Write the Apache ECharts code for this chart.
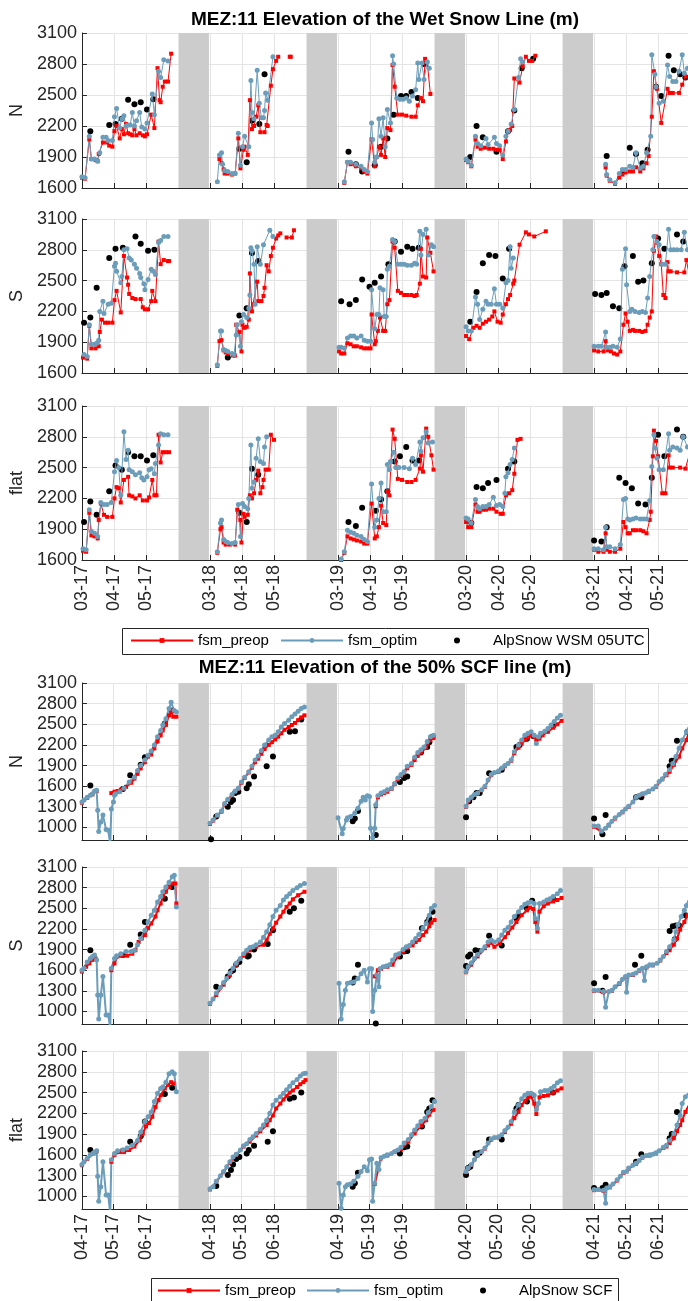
<!DOCTYPE html>
<html>
<head>
<meta charset="utf-8">
<script src="https://cdn.jsdelivr.net/npm/echarts/dist/echarts.min.js"></script>
<style>
html,body{margin:0;padding:0;background:#fff}
#main{width:688px;height:1301px}
</style>
</head>
<body>
<div id="main"></div>
<script>
// x = season index * SPAN + day within season (season = 3 plotted months + 1 month gap)
const SPAN = 122
const years = ['17', '18', '19', '20', '21']
const wetMonthDays = [0, 31, 61]
const wetMonths = ['03', '04', '05']
const scfMonthDays = [0, 30, 61]
const scfMonths = ['04', '05', '06']
const wetYTicks = [1600, 1900, 2200, 2500, 2800, 3100]
const scfYTicks = [1000, 1300, 1600, 1900, 2200, 2500, 2800, 3100]

// ---- Wet snow line, N ----
const wetN_preop = [
  [[0,1700],[3,1690],[7,2070],[9,1880],[13,1870],[15,1860],[16,1930],[20,2040],[24,2040],[26,2010],[29,2000],[31,2150],[33,2200],[36,2080],[38,2170],[40,2120],[42,2220],[44,2130],[46,2120],[48,2110],[50,2170],[52,2110],[55,2130],[58,2110],[60,2100],[62,2120],[66,2310],[69,2180],[72,2760],[74,2450],[75,2430],[77,2580],[79,2630],[82,2630],[85,2900]],
  [[9,1880],[11,1840],[13,1780],[14,1740],[17,1740],[21,1730],[24,1740],[27,2080],[29,1790],[32,1970],[33,2000],[36,1920],[38,2450],[40,2170],[42,2200],[44,2290],[46,2400],[48,2140],[52,2140],[54,2210],[55,2200],[58,2590],[60,2750],[63,2830],[65,2870],[70,'-'],[76,2870],[77,2870]],
  [[6,1650],[9,1850],[12,1830],[17,1810],[22,1790],[25,1760],[28,1740],[32,2070],[35,1810],[37,1900],[39,2000],[41,1920],[43,2080],[45,1900],[47,2180],[50,2160],[52,2790],[54,2580],[57,2310],[61,2310],[65,2300],[70,2290],[74,2290],[76,2400],[79,2470],[81,2440],[83,2850],[85,2820],[88,2510]],
  [[0,1870],[2,1850],[5,1810],[9,2070],[11,2000],[14,1980],[18,1990],[22,1980],[26,1980],[29,1970],[32,1970],[35,1880],[38,2050],[40,2140],[42,2160],[44,2200],[46,2660],[51,2620],[54,2780],[57,2870],[60,2830],[63,2830],[66,2880]],
  [[11,1800],[12,1720],[15,1670],[20,1640],[24,1700],[27,1730],[30,1750],[34,1760],[37,1760],[40,1800],[44,1760],[47,1790],[50,1840],[52,1910],[55,2290],[57,2730],[60,2560],[64,2230],[70,2560],[72,2520],[75,2520],[81,2520],[84,2600],[87,2680]]
]
const wetN_optim = [
  [[0,1710],[3,1700],[7,2100],[9,1880],[12,1880],[15,1860],[17,1940],[20,2090],[23,2090],[25,2060],[29,2060],[31,2290],[33,2370],[36,2180],[38,2270],[40,2300],[42,2200],[44,2210],[46,2210],[48,2330],[50,2200],[52,2250],[55,2330],[57,2190],[60,2170],[62,2230],[67,2510],[69,2310],[73,2730],[75,2670],[78,2840],[82,2830]],
  [[7,1660],[9,1920],[11,1940],[12,1830],[14,1770],[17,1760],[21,1740],[24,1740],[27,2130],[29,1820],[31,2000],[33,2100],[37,2000],[39,2640],[40,2330],[42,2270],[45,2740],[47,2420],[49,2280],[51,2280],[52,2350],[53,2520],[55,2450],[60,2870]],
  [[6,1660],[9,1850],[12,1850],[17,1830],[22,1810],[25,1780],[28,1760],[32,2230],[33,2070],[35,1850],[37,1900],[39,2270],[41,2100],[43,2280],[45,2000],[47,2360],[50,2230],[52,2880],[53,2800],[56,2470],[59,2460],[62,2460],[65,2470],[68,2440],[71,2490],[74,2550],[76,2810],[77,2650],[80,2810],[82,2650],[85,2820],[87,2760]],
  [[0,1880],[2,1860],[5,1820],[9,2100],[11,2030],[14,2010],[19,2080],[21,2020],[27,2090],[29,2030],[32,2010],[35,1920],[38,2100],[40,2150],[43,2220],[46,2360],[50,2670],[52,2850],[54,2820]],
  [[11,1830],[12,1730],[15,1680],[20,1650],[24,1740],[27,1780],[30,1780],[34,1810],[37,1800],[40,1940],[44,1790],[47,1810],[50,1940],[54,2100],[55,2890],[58,2700],[59,2580],[62,2420],[66,2440],[70,2790],[72,2680],[75,2630],[78,2630],[81,2730],[84,2890],[86,2710],[89,2760]]
]
const wetN_obs = [
  [[8,2150],[26,2210],[32,2220],[38,2270],[44,2455],[50,2410],[56,2430],[62,2360],[68,2460]],
  [[28,1980],[35,1850],[40,2250],[47,2220],[52,2700]],
  [[10,1950],[17,1830],[23,1760],[35,1820],[41,2000],[47,2080],[53,2310],[60,2490],[65,2490],[70,2530],[76,2470],[82,2800]],
  [[4,1900],[10,2200],[16,2090],[29,1950],[40,2150],[46,2350],[53,2760],[64,2850]],
  [[12,1910],[28,1760],[34,1990],[40,1930],[46,1840],[51,1970],[59,2580],[64,2490],[71,2880],[76,2740],[82,2700],[87,2670]]
]

// ---- Wet snow line, S ----
const wetS_preop = [
  [[1,1750],[5,1740],[7,2060],[9,1840],[13,1840],[16,1860],[17,2000],[19,2120],[22,2090],[25,2090],[29,2090],[31,2310],[33,2400],[37,2190],[40,2740],[43,2530],[44,2460],[45,2370],[48,2330],[51,2320],[56,2320],[58,2240],[60,2220],[63,2220],[66,2300],[67,2400],[70,2300],[73,2880],[75,2660],[78,2700],[82,2690],[83,2690]],
  [[7,1670],[9,1910],[11,1920],[13,1820],[15,1800],[17,1790],[22,1770],[24,1770],[25,2070],[28,2000],[30,1810],[31,2070],[33,2040],[35,2050],[37,2120],[38,2570],[40,2200],[41,2270],[45,2490],[46,2300],[49,2300],[51,2350],[52,2430],[54,2650],[56,2590],[58,2740],[60,2820],[63,2910],[65,2940],[67,2960],[70,'-'],[73,2920],[78,2920],[80,2990]],
  [[1,1810],[3,1790],[6,1790],[9,1890],[12,1880],[15,1860],[18,1860],[22,1850],[25,1840],[28,1840],[31,1840],[32,2170],[35,1880],[36,1910],[38,2010],[40,2140],[43,2010],[45,2010],[47,2270],[49,2310],[52,2880],[54,2820],[57,2400],[60,2380],[63,2360],[66,2360],[70,2360],[73,2350],[75,2360],[78,2470],[79,2810],[81,2540],[84,2530],[85,2920],[88,2770],[91,2590]],
  [[0,1960],[3,1930],[7,2040],[10,2060],[13,2040],[16,2080],[19,2100],[22,2120],[25,2150],[27,2200],[30,2100],[33,2090],[35,2170],[38,2270],[40,2320],[42,2360],[45,2470],[46,2500],[51,2850],[57,2970],[60,2950],[65,2930],[76,2980]],
  [[0,1820],[4,1810],[9,1810],[11,1910],[13,1820],[16,1810],[19,1790],[22,1780],[25,1810],[28,2070],[30,2180],[32,2100],[34,2010],[37,2020],[39,2010],[43,2010],[46,2000],[49,2010],[51,2070],[53,2140],[55,2200],[57,2790],[59,2930],[60,2870],[62,2740],[64,2660],[66,2360],[68,2330],[70,2680],[71,2590],[73,2590],[79,2580],[86,2580],[88,2700],[90,2590]]
]
const wetS_optim = [
  [[2,1780],[5,1760],[7,2070],[9,1880],[12,1880],[14,1890],[16,1920],[17,2200],[20,2300],[21,2180],[25,2270],[28,2280],[31,2640],[32,2670],[33,2590],[37,2480],[38,2540],[40,2800],[43,2810],[45,2720],[47,2700],[50,2660],[52,2620],[55,2570],[56,2530],[59,2470],[60,2410],[63,2510],[66,2610],[68,2590],[70,2560],[73,2870],[75,2890],[78,2930],[82,2930]],
  [[7,1680],[10,2010],[11,2010],[13,1830],[15,1820],[17,1810],[21,1790],[23,1780],[25,1970],[26,2070],[29,1860],[30,2100],[32,2170],[35,2140],[37,2230],[38,2360],[39,2820],[40,2790],[42,2660],[43,2270],[45,2830],[48,2660],[51,2850],[57,2990],[60,2930]],
  [[1,1850],[3,1850],[6,1840],[9,1940],[12,1960],[15,1960],[18,1940],[22,1960],[25,1920],[28,1910],[31,1910],[32,2410],[35,2030],[37,2170],[39,2170],[40,2430],[43,2410],[44,2150],[46,2150],[47,2610],[49,2640],[52,2900],[54,2880],[57,2660],[60,2660],[63,2660],[66,2650],[70,2650],[73,2670],[75,2660],[78,2980],[79,2750],[81,2950],[84,3000],[86,2750],[89,2850],[91,2830]],
  [[0,2050],[2,2010],[5,2010],[9,2340],[11,2270],[13,2120],[16,2220],[19,2300],[21,2270],[24,2270],[27,2420],[29,2270],[32,2270],[35,2230],[38,2480],[40,2500],[42,2830],[43,2620],[45,2720]],
  [[0,1860],[4,1860],[7,1860],[11,2000],[12,1850],[15,1850],[18,1860],[22,1850],[25,1930],[27,2610],[30,2810],[31,2460],[34,2200],[36,2220],[39,2200],[43,2190],[46,2200],[49,2190],[51,2330],[53,2540],[56,2800],[57,2930],[60,2880],[62,2850],[65,2660],[68,2660],[71,3000],[73,2800],[76,2800],[79,2800],[83,2800],[86,2970],[89,2800]]
]
const wetS_obs = [
  [[2,2090],[8,2140],[14,2430],[26,2720],[32,2810],[39,2820],[51,2930],[56,2860],[63,2790],[69,2800]],
  [[17,1750],[28,2160],[35,2230],[40,2770],[46,2690]],
  [[3,2300],[11,2270],[17,2310],[23,2510],[30,2440],[35,2480],[41,2540],[48,2660],[54,2880],[60,2780],[66,2830],[71,2810],[77,2820]],
  [[4,2100],[10,2390],[16,2670],[22,2750],[28,2740],[35,2520],[41,2810]],
  [[1,2370],[7,2360],[12,2380],[18,2250],[24,2230],[29,2640],[37,2740],[42,2490],[47,2500],[55,2670],[61,2910],[67,2810],[79,2950],[85,2880]]
]

// ---- Wet snow line, flat ----
const wetF_preop = [
  [[1,1690],[4,1680],[7,2060],[9,1840],[12,1830],[15,1810],[16,1990],[18,2150],[21,2040],[24,2020],[29,2020],[31,2200],[33,2310],[35,2300],[37,2160],[40,2380],[44,2410],[45,2230],[48,2220],[51,2200],[55,2230],[58,2180],[62,2180],[64,2210],[67,2380],[69,2230],[71,2230],[73,2820],[75,2550],[77,2650],[80,2650],[83,2650]],
  [[7,1670],[10,1900],[11,1920],[13,1770],[15,1750],[19,1750],[24,1750],[26,2090],[29,1990],[30,1770],[32,2050],[33,2020],[36,2040],[38,2230],[40,2200],[42,2250],[44,2380],[46,2470],[48,2250],[50,2310],[51,2380],[53,2480],[56,2480],[58,2820],[61,2770]],
  [[3,1600],[6,1670],[9,1830],[12,1810],[15,1800],[18,1790],[22,1780],[25,1760],[28,1760],[32,2150],[35,1810],[37,1830],[39,1920],[41,2130],[43,1960],[46,1940],[47,2270],[49,2230],[52,2870],[54,2780],[57,2390],[61,2380],[66,2360],[70,2360],[74,2380],[78,2490],[79,2620],[81,2460],[84,2880],[86,2800],[89,2620],[91,2480]],
  [[0,1970],[2,1920],[5,1920],[9,2140],[11,2070],[13,2070],[16,2090],[19,2090],[22,2100],[26,2100],[29,2070],[33,2050],[35,2050],[38,2230],[41,2250],[44,2280],[46,2440],[49,2770],[52,2780]],
  [[0,1700],[4,1680],[9,1680],[11,1860],[12,1700],[15,1680],[20,1680],[25,1710],[28,1970],[30,1920],[32,1860],[34,1860],[37,1890],[40,1890],[44,1890],[47,1880],[50,1860],[53,1990],[54,2070],[56,2610],[57,2860],[59,2760],[61,2610],[65,2250],[68,2250],[71,2620],[72,2500],[75,2500],[82,2500],[87,2490],[90,2600]]
]
const wetF_optim = [
  [[1,1710],[4,1700],[7,2090],[9,1880],[12,1860],[15,1830],[18,2160],[21,2140],[24,2140],[28,2160],[31,2460],[33,2570],[35,2500],[37,2230],[40,2850],[42,2580],[44,2670],[45,2480],[48,2460],[51,2430],[55,2450],[57,2400],[59,2380],[62,2410],[64,2480],[66,2490],[69,2440],[70,2540],[73,2720],[75,2830],[78,2820],[82,2820]],
  [[7,1680],[10,1960],[11,1990],[13,1800],[15,1780],[17,1770],[21,1760],[24,1770],[27,2140],[29,1830],[31,2150],[33,2120],[36,2100],[37,2200],[39,2720],[40,2300],[42,2360],[44,2590],[46,2780],[48,2560],[51,2540],[52,2700],[54,2800]],
  [[3,1610],[6,1680],[9,1890],[12,1870],[15,1860],[18,1840],[22,1830],[25,1800],[28,1780],[32,2340],[35,1920],[37,1990],[39,2200],[41,2350],[43,2070],[46,2070],[47,2530],[49,2480],[50,2560],[53,2650],[55,2500],[58,2500],[63,2500],[68,2490],[71,2590],[74,2530],[78,2750],[79,2660],[81,2790],[84,2850],[86,2740],[90,2750]],
  [[0,2010],[2,2000],[5,1960],[9,2190],[11,2120],[13,2100],[16,2120],[19,2120],[22,2140],[26,2210],[29,2130],[32,2140],[35,2120],[37,2250],[38,2410],[40,2450],[42,2530],[44,2580],[46,2690]],
  [[0,1710],[4,1710],[9,1700],[11,1920],[12,1730],[15,1730],[20,1710],[25,1750],[28,2190],[30,2200],[32,2000],[34,1990],[37,2000],[40,2010],[44,2000],[47,2000],[50,2000],[53,2180],[55,2510],[57,2820],[58,2690],[60,2590],[62,2480],[66,2480],[71,2830],[72,2670],[75,2700],[79,2690],[82,2670],[85,2800],[89,2700]]
]
const wetF_obs = [
  [[2,1970],[8,2170],[14,2040],[26,2270],[32,2520],[38,2480],[44,2650],[50,2610],[56,2610],[62,2570],[68,2620]],
  [[28,2060],[35,1970],[40,2490],[46,2430]],
  [[10,1970],[17,1930],[23,2110],[36,2080],[41,2190],[47,2270],[54,2560],[59,2610],[65,2700],[71,2570],[77,2570]],
  [[5,1960],[10,2310],[16,2300],[21,2350],[29,2380],[40,2490],[46,2560]],
  [[0,1790],[7,1780],[12,1920],[24,2400],[30,2350],[36,2300],[42,2150],[49,2140],[55,2400],[61,2820],[67,2610],[79,2870],[85,2800]]
]

// ---- 50% SCF line, N ----
const scfN_preop = [
  [[0,1360],[5,1430],[10,1480],[14,1530],[20,'-'],[28,1500],[31,1520],[34,1530],[37,1550],[42,1590],[47,1650],[50,1710],[53,1780],[56,1860],[60,1950],[63,2030],[66,2060],[69,2150],[72,2250],[75,2340],[77,2410],[80,2490],[83,2630],[85,2700],[87,2610],[90,2610]],
  [[0,1050],[3,1100],[7,1170],[11,1230],[14,1340],[17,1400],[21,1470],[24,1520],[27,1560],[30,1650],[33,1720],[37,1800],[40,1870],[43,1950],[46,2000],[49,2070],[52,2140],[56,2200],[59,2240],[62,2280],[65,2320],[68,2370],[71,2420],[75,2460],[78,2490],[81,2520],[84,2560],[87,2600],[90,2630]],
  [[36,1310],[38,1440],[41,1480],[44,1500],[47,1520],[51,1560],[54,1630],[57,1700],[60,1750],[63,1800],[66,1860],[70,1910],[73,1980],[76,2040],[79,2090],[84,2160],[88,2270],[91,2300]],
  [[0,1300],[5,1430],[11,1490],[18,1590],[24,1760],[31,1810],[37,1890],[43,1970],[46,2080],[50,2160],[53,2220],[56,2270],[59,2310],[62,2340],[65,2320],[67,2270],[70,2290],[73,2340],[78,2390],[83,2450],[87,2500],[91,2550]],
  [[0,1010],[7,940],[14,1030],[20,1130],[27,1220],[33,1300],[40,1430],[46,1480],[52,1520],[59,1590],[65,1700],[69,1760],[72,1810],[76,1910],[81,2030],[84,2150],[88,2270],[90,2370]]
]
const scfN_optim = [
  [[0,1370],[2,1400],[5,1440],[8,1470],[10,1490],[12,1530],[14,1540],[15,1250],[16,940],[18,1080],[20,1180],[23,970],[25,960],[27,750],[28,1270],[30,1370],[31,1470],[32,1490],[36,1520],[40,1570],[45,1660],[50,1730],[53,1830],[56,1900],[60,1980],[63,2050],[66,2110],[69,2200],[72,2320],[75,2410],[77,2490],[80,2580],[83,2730],[85,2820],[88,2700],[90,2680]],
  [[0,1060],[3,1110],[7,1180],[11,1240],[14,1350],[17,1410],[21,1480],[24,1530],[27,1570],[30,1660],[33,1730],[37,1810],[40,1890],[43,1980],[46,2040],[49,2120],[52,2200],[56,2270],[59,2320],[62,2340],[65,2390],[68,2460],[71,2510],[75,2560],[78,2610],[81,2650],[84,2690],[87,2730],[90,2750]],
  [[0,1140],[4,910],[5,985],[8,1110],[9,1140],[12,1160],[16,1210],[19,1280],[22,1380],[24,1440],[26,1400],[28,1460],[30,1450],[31,990],[33,850],[35,990],[36,1330],[38,1460],[41,1500],[44,1520],[47,1550],[51,1570],[54,1640],[57,1720],[60,1770],[63,1810],[66,1890],[70,1930],[73,2020],[76,2090],[79,2130],[82,2170],[85,2250],[88,2320],[91,2340]],
  [[0,1310],[2,1400],[5,1440],[8,1480],[11,1500],[15,1550],[18,1600],[21,1690],[24,1770],[27,1800],[31,1820],[34,1860],[37,1900],[40,1930],[43,1980],[46,2100],[50,2200],[53,2270],[56,2340],[59,2370],[62,2390],[65,2340],[67,2220],[69,2320],[71,2370],[75,2400],[78,2440],[81,2490],[84,2540],[87,2590],[90,2630]],
  [[0,1020],[4,1020],[7,950],[11,990],[14,1040],[17,1090],[20,1140],[24,1190],[27,1230],[30,1270],[33,1310],[37,1370],[40,1440],[43,1470],[46,1490],[49,1500],[52,1530],[56,1560],[59,1600],[62,1670],[65,1710],[68,1770],[72,1840],[75,1930],[78,2030],[81,2150],[84,2270],[88,2390],[90,2460]]
]
const scfN_obs = [
  [[8,1610],[39,1560],[46,1760],[56,1910],[60,2020],[79,2510],[86,2700]],
  [[1,830],[6,1160],[17,1300],[20,1370],[22,1400],[24,1500],[27,1520],[35,1570],[37,1630],[42,1740],[54,1890],[60,2030],[76,2390],[81,2400],[87,2570]],
  [[14,1090],[16,1130],[19,1240],[36,890],[59,1660],[63,1720],[66,1740],[79,2090],[85,2170],[87,2240],[90,2320]],
  [[0,1150],[3,1380],[7,1440],[10,1500],[13,1500],[22,1790],[34,1840],[48,2170],[51,2200],[58,2290],[64,2330],[83,2480]],
  [[0,1130],[8,900],[11,1180],[40,1440],[45,1440],[72,1890],[74,1970],[76,1970],[79,2260],[89,2390]]
]

// ---- 50% SCF line, S ----
const scfS_preop = [
  [[0,1580],[4,1650],[7,1700],[10,1750],[13,1770],[20,'-'],[28,1600],[31,1700],[34,1800],[38,1810],[43,1810],[48,1840],[51,1890],[54,2010],[57,2060],[60,2110],[63,2210],[66,2280],[70,2380],[72,2470],[75,2570],[77,2670],[80,2740],[83,2810],[86,2860],[89,2860],[90,2570]],
  [[0,1110],[6,1240],[13,1390],[19,1530],[25,1680],[32,1810],[38,1890],[44,1940],[51,1970],[54,2040],[57,2130],[60,2210],[63,2290],[67,2380],[70,2450],[73,2520],[76,2570],[79,2630],[84,2690],[90,2740]],
  [[35,1510],[38,1600],[41,1620],[47,1650],[52,1680],[57,1800],[62,1870],[66,1920],[71,1960],[74,2010],[77,2040],[81,2110],[84,2160],[87,2240],[89,2290],[92,2330]],
  [[0,1570],[5,1680],[11,1800],[18,1920],[21,1960],[24,2000],[27,1940],[32,1990],[37,2080],[40,2140],[44,2220],[48,2300],[53,2400],[58,2470],[61,2510],[64,2490],[66,2300],[68,2160],[70,2450],[74,2530],[78,2570],[83,2600],[87,2620],[91,2650]],
  [[0,1300],[9,1280],[17,1300],[24,1400],[30,1500],[37,1530],[43,1590],[50,1640],[56,1670],[63,1740],[69,1850],[72,1890],[76,1970],[79,2060],[82,2190],[86,2300],[89,2400],[90,2430]]
]
const scfS_optim = [
  [[0,1600],[2,1630],[5,1720],[8,1770],[10,1800],[12,1820],[14,1750],[15,1240],[16,890],[18,1240],[20,1510],[23,950],[25,950],[27,750],[28,1630],[31,1770],[33,1810],[37,1840],[42,1870],[47,1870],[50,1890],[53,1970],[56,2060],[60,2180],[63,2300],[66,2400],[69,2470],[72,2590],[75,2670],[77,2740],[80,2810],[83,2880],[86,2960],[88,2980],[90,2520]],
  [[0,1120],[3,1180],[6,1270],[10,1350],[13,1420],[16,1480],[19,1560],[22,1630],[25,1700],[29,1770],[32,1840],[35,1890],[38,1930],[41,1940],[44,1970],[48,2010],[51,2080],[54,2160],[57,2260],[60,2380],[63,2470],[67,2540],[70,2620],[73,2670],[76,2710],[79,2760],[83,2800],[86,2830],[90,2860]],
  [[1,1410],[3,890],[5,1100],[7,1310],[9,1410],[12,1420],[15,1430],[19,1480],[22,1550],[25,1600],[28,1430],[30,1620],[32,1620],[33,1000],[35,1310],[37,1530],[39,1360],[40,1620],[43,1650],[46,1660],[49,1680],[52,1750],[55,1820],[58,1840],[62,1900],[65,1940],[68,1960],[71,2010],[74,2060],[77,2120],[81,2210],[84,2280],[87,2400],[89,2500],[92,2540]],
  [[0,1580],[2,1650],[5,1710],[8,1770],[11,1830],[15,1890],[18,1940],[21,2010],[24,2040],[27,2010],[31,2040],[34,2110],[37,2180],[40,2220],[43,2300],[46,2380],[50,2450],[53,2510],[56,2560],[59,2580],[62,2590],[65,2570],[66,2350],[68,2210],[70,2570],[74,2590],[77,2620],[80,2640],[83,2670],[87,2710],[90,2760]],
  [[0,1310],[4,1310],[9,1290],[11,1060],[14,1290],[17,1310],[20,1360],[24,1410],[27,1470],[30,1510],[31,1280],[33,1530],[37,1540],[40,1560],[43,1600],[46,1630],[48,1450],[50,1650],[53,1680],[56,1680],[60,1700],[63,1750],[66,1800],[69,1870],[72,1940],[76,2040],[78,2160],[80,2260],[83,2380],[86,2470],[88,2540],[90,2620]]
]
const scfS_obs = [
  [[8,1890],[39,1820],[46,1970],[56,2120],[60,2300],[79,2640],[86,2810]],
  [[6,1360],[17,1510],[20,1580],[22,1600],[25,1680],[28,1720],[36,1800],[37,1810],[42,1900],[55,1980],[60,2180],[76,2450],[80,2500],[87,2610]],
  [[14,1420],[16,1480],[19,1680],[36,825],[59,1800],[63,1870],[66,1880],[80,2210],[85,2300],[87,2350],[90,2450]],
  [[0,1660],[2,1800],[4,1830],[9,1890],[13,1880],[22,2100],[34,1960],[48,2350],[50,2400],[58,2500],[63,2610],[83,2640]],
  [[0,1410],[8,1300],[11,1500],[39,1680],[45,1810],[72,2170],[75,2240],[77,2050],[78,2250],[81,2250],[87,2400]]
]

// ---- 50% SCF line, flat ----
const scfF_preop = [
  [[0,1450],[5,1540],[11,1620],[14,1650],[20,'-'],[28,1500],[31,1600],[36,1640],[40,1640],[45,1670],[50,1720],[55,1810],[58,1910],[61,2010],[64,2060],[67,2150],[70,2290],[73,2390],[75,2460],[79,2560],[82,2610],[85,2650],[87,2630]],
  [[0,1100],[6,1210],[13,1350],[19,1490],[25,1600],[32,1720],[38,1790],[44,1880],[48,1940],[54,2030],[57,2100],[60,2170],[63,2270],[67,2340],[70,2400],[73,2450],[76,2500],[79,2530],[83,2580],[86,2620],[89,2650],[91,2680]],
  [[35,1180],[41,1550],[47,1590],[54,1640],[60,1680],[67,1790],[73,1910],[79,2020],[84,2100],[87,2180],[91,2250]],
  [[0,1350],[5,1450],[11,1590],[18,1690],[24,1820],[31,1850],[37,1930],[43,2050],[46,2130],[50,2220],[53,2320],[56,2380],[59,2430],[62,2440],[65,2340],[67,2190],[70,2430],[74,2450],[78,2460],[83,2500],[87,2530],[91,2560]],
  [[0,1090],[9,1080],[15,1130],[22,1230],[28,1340],[33,1400],[40,1470],[46,1560],[53,1590],[59,1620],[66,1700],[69,1720],[72,1770],[76,1840],[79,1940],[82,2030],[84,2100],[87,2220],[90,2310]]
]
const scfF_optim = [
  [[0,1460],[2,1500],[5,1550],[8,1600],[11,1630],[14,1660],[15,1290],[16,930],[18,1140],[20,1500],[23,1020],[25,1020],[27,750],[28,1530],[31,1620],[34,1660],[39,1670],[43,1700],[48,1740],[53,1810],[56,1930],[60,2080],[63,2150],[66,2220],[69,2370],[72,2490],[75,2560],[77,2580],[80,2650],[83,2770],[86,2800],[88,2770],[90,2510]],
  [[0,1110],[3,1140],[6,1220],[10,1300],[13,1360],[16,1430],[19,1500],[22,1570],[25,1610],[29,1670],[32,1730],[35,1760],[38,1820],[41,1860],[44,1910],[48,1970],[51,2030],[54,2100],[57,2200],[60,2320],[63,2390],[67,2440],[70,2490],[73,2540],[76,2590],[79,2640],[83,2690],[86,2740],[89,2770],[91,2780]],
  [[1,1190],[3,830],[5,1020],[7,1140],[9,1170],[12,1180],[15,1220],[19,1290],[22,1360],[25,1430],[28,1370],[30,1530],[32,1540],[33,930],[35,1190],[37,1480],[39,1390],[41,1560],[44,1580],[47,1600],[51,1620],[54,1650],[57,1670],[60,1710],[63,1770],[67,1820],[70,1890],[73,1960],[76,2020],[79,2080],[83,2130],[86,2210],[89,2300],[92,2370]],
  [[0,1360],[2,1410],[5,1460],[8,1530],[11,1600],[15,1650],[18,1700],[21,1770],[24,1830],[27,1850],[31,1860],[34,1890],[37,1950],[40,2000],[43,2080],[46,2220],[50,2320],[53,2410],[56,2460],[59,2490],[62,2490],[65,2460],[67,2250],[69,2340],[71,2510],[75,2530],[78,2530],[81,2560],[84,2590],[87,2640],[90,2670]],
  [[0,1100],[4,1100],[9,1090],[11,900],[12,1120],[15,1140],[18,1180],[22,1240],[25,1290],[28,1350],[31,1360],[33,1410],[37,1450],[40,1480],[43,1520],[46,1570],[50,1590],[53,1600],[56,1610],[59,1630],[62,1660],[66,1710],[69,1740],[72,1810],[76,1910],[79,2030],[82,2170],[84,2340],[87,2440],[90,2490]]
]
const scfF_obs = [
  [[8,1670],[39,1660],[46,1790],[56,1870],[60,2080],[79,2480],[86,2570]],
  [[6,1150],[17,1310],[20,1380],[22,1460],[25,1540],[28,1570],[35,1620],[37,1670],[42,1730],[55,1790],[60,1940],[76,2410],[80,2430],[87,2500]],
  [[14,1140],[16,1190],[19,1340],[59,1620],[63,1710],[66,1720],[80,2010],[85,2220],[87,2270],[90,2390]],
  [[0,1310],[2,1410],[4,1430],[9,1620],[13,1630],[22,1820],[34,1820],[48,2270],[50,2320],[58,2370],[63,2460],[83,2500]],
  [[0,1120],[8,1120],[11,1170],[40,1500],[45,1610],[72,1840],[74,1900],[76,1900],[79,2220],[90,2390]]
]

const FONT = '"Liberation Sans", Arial, Helvetica, sans-serif'
const INK = '#262626'
const RED = '#ff0000'
const BLUE = '#6b9dba'

function flatten(perYear) {
  const out = []
  perYear.forEach((pts, yi) => {
    pts.forEach(p => out.push([yi * SPAN + p[0], p[1]]))
    out.push([yi * SPAN + 100, '-'])
  })
  return out
}

const panels = [
  {top: 33, h: 155, min: 1600, yt: wetYTicks, name: 'N', kind: 'wet', labels: false, data: [wetN_preop, wetN_optim, wetN_obs]},
  {top: 219, h: 154, min: 1600, yt: wetYTicks, name: 'S', kind: 'wet', labels: false, data: [wetS_preop, wetS_optim, wetS_obs]},
  {top: 406, h: 154, min: 1600, yt: wetYTicks, name: 'flat', kind: 'wet', labels: true, data: [wetF_preop, wetF_optim, wetF_obs]},
  {top: 683, h: 157, min: 818, yt: scfYTicks, name: 'N', kind: 'scf', labels: false, data: [scfN_preop, scfN_optim, scfN_obs]},
  {top: 867, h: 157, min: 818, yt: scfYTicks, name: 'S', kind: 'scf', labels: false, data: [scfS_preop, scfS_optim, scfS_obs]},
  {top: 1051, h: 158, min: 818, yt: scfYTicks, name: 'flat', kind: 'scf', labels: true, data: [scfF_preop, scfF_optim, scfF_obs]}
]

const grids = [], xAxes = [], yAxes = [], series = []
const gaps = [0, 1, 2, 3].map(i => [{xAxis: i * SPAN + 92}, {xAxis: i * SPAN + 121}])

panels.forEach((p, gi) => {
  const offs = p.kind === 'wet' ? wetMonthDays : scfMonthDays
  const months = p.kind === 'wet' ? wetMonths : scfMonths
  const xt = [], xl = {}
  years.forEach((y, yi) => offs.forEach((o, mi) => {
    const v = yi * SPAN + o
    xt.push(v)
    xl[v] = months[mi] + '-' + y
  }))
  grids.push({left: 81, right: 0, top: p.top, height: p.h})
  xAxes.push({
    type: 'value', gridIndex: gi, min: 0, max: 577.5,
    axisLine: {lineStyle: {color: INK}},
    axisTick: {inside: true, length: 5, customValues: xt, lineStyle: {color: INK}},
    axisLabel: {show: p.labels, customValues: xt, rotate: 90, margin: 5, formatter: v => xl[v] || '',
      fontSize: 18, color: INK, fontFamily: FONT},
    splitLine: {show: true, lineStyle: {color: '#e4e4e4'}}
  })
  yAxes.push({
    type: 'value', gridIndex: gi, min: p.min, max: 3100,
    name: p.name, nameLocation: 'middle', nameGap: 50, nameRotate: 90,
    nameTextStyle: {fontSize: 18, color: INK, fontFamily: FONT},
    axisLine: {show: true, lineStyle: {color: INK}},
    axisTick: {show: true, inside: true, length: 5, customValues: p.yt, lineStyle: {color: INK}},
    axisLabel: {customValues: p.yt, fontSize: 18, color: INK, margin: 5, fontFamily: FONT, formatter: v => String(v)},
    splitLine: {show: true, lineStyle: {color: '#e4e4e4'}}
  })
  const thick = p.kind === 'scf' ? 2 : 1
  series.push({
    name: 'fsm_preop', type: 'line', xAxisIndex: gi, yAxisIndex: gi,
    data: flatten(p.data[0]), symbol: 'rect', symbolSize: 4, showAllSymbol: true,
    lineStyle: {color: RED, width: thick}, itemStyle: {color: RED},
    markArea: {silent: true, itemStyle: {color: '#cccccc', opacity: 1}, data: gaps}
  })
  series.push({
    name: 'fsm_optim', type: 'line', xAxisIndex: gi, yAxisIndex: gi,
    data: flatten(p.data[1]), symbol: 'circle', symbolSize: 5, showAllSymbol: true,
    lineStyle: {color: BLUE, width: thick}, itemStyle: {color: BLUE}
  })
  series.push({
    name: p.kind === 'wet' ? 'AlpSnow WSM 05UTC' : 'AlpSnow SCF', type: 'scatter', xAxisIndex: gi, yAxisIndex: gi,
    data: flatten(p.data[2]).filter(d => d[1] !== '-'), symbol: 'circle', symbolSize: 6,
    itemStyle: {color: '#000', opacity: 1}
  })
})

function legendAt(name, left, top) {
  return {data: [name], left: left, top: top, itemWidth: 62, itemHeight: 6, itemGap: 0, padding: 0,
    selectedMode: false, textStyle: {fontSize: 15, color: '#000', fontFamily: FONT}}
}

const chart = echarts.init(document.getElementById('main'))
chart.setOption({
  animation: false,
  backgroundColor: '#fff',
  grid: grids,
  xAxis: xAxes,
  yAxis: yAxes,
  series: series,
  legend: [
    legendAt('fsm_preop', 130, 633),
    legendAt('fsm_optim', 280, 633),
    legendAt('AlpSnow WSM 05UTC', 454, 633),
    legendAt('fsm_preop', 157, 1283),
    legendAt('fsm_optim', 306, 1283),
    legendAt('AlpSnow SCF', 480, 1283)
  ],
  graphic: [
    {type: 'rect', z: 1, shape: {x: 122.5, y: 628.5, width: 526, height: 26},
      style: {fill: '#fff', stroke: INK, lineWidth: 1}},
    {type: 'rect', z: 1, shape: {x: 151.5, y: 1278.5, width: 467, height: 30},
      style: {fill: '#fff', stroke: INK, lineWidth: 1}},
    {type: 'text', x: 385, y: 20, z: 5,
      style: {text: 'MEZ:11 Elevation of the Wet Snow Line (m)', font: 'bold 19px ' + FONT, fill: '#000',
        align: 'center', verticalAlign: 'middle'}},
    {type: 'text', x: 385, y: 668, z: 5,
      style: {text: 'MEZ:11 Elevation of the 50% SCF line (m)', font: 'bold 19px ' + FONT, fill: '#000',
        align: 'center', verticalAlign: 'middle'}}
  ]
})
</script>
</body>
</html>
